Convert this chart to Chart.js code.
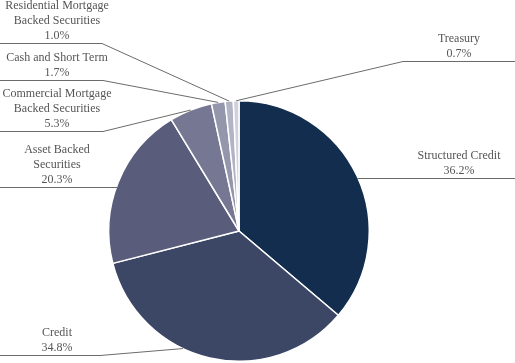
<!DOCTYPE html>
<html>
<head>
<meta charset="utf-8">
<script src="https://cdn.jsdelivr.net/npm/chart.js@4.4.0/dist/chart.umd.min.js"></script>
<style>
    html, body { margin: 0; padding: 0; background: #ffffff; }
    #wrap { width: 515px; height: 363px; position: relative; }
</style>
</head>
<body>
<div id="wrap"><canvas id="allocation-chart"></canvas></div>
<script>
// Portfolio allocation, clockwise from 12 o'clock
const categories = [
    ['Structured Credit'],
    ['Credit'],
    ['Asset Backed', 'Securities'],
    ['Commercial Mortgage', 'Backed Securities'],
    ['Cash and Short Term'],
    ['Residential Mortgage', 'Backed Securities'],
    ['Treasury']
];
const weights = [36.2, 34.8, 20.3, 5.3, 1.7, 1.0, 0.7];
const sliceColors = ['#132d4e', '#3c4766', '#595c7b', '#767893', '#9496ac', '#b2b3c5', '#d0d1db'];

// Label placement: side, baseline of the leader line, elbow x, spot along slice
const labelLayout = [
    { side: 'right', lineY: 178, elbowX: null, at: 0.5 },
    { side: 'left', lineY: 355, elbowX: 100, at: 0.6 },
    { side: 'left', lineY: 187, elbowX: null, at: 0.5 },
    { side: 'left', lineY: 131, elbowX: 103, at: 0.5 },
    { side: 'left', lineY: 80, elbowX: 103, at: 0.5 },
    { side: 'left', lineY: 43, elbowX: 102, at: 0.5 },
    { side: 'right', lineY: 61, elbowX: 403, at: 0.5 }
];

const FONT = '12px "Liberation Serif", "DejaVu Serif", serif';
const LINE_H = 15;

// Draw leader lines and the text for each slice
const leaderLabels = {
    id: 'leaderLabels',
    afterDraw(chart) {
        const ctx = chart.ctx;
        const arcs = chart.getDatasetMeta(0).data;
        const W = chart.width;
        ctx.save();
        ctx.font = FONT;
        ctx.textAlign = 'center';
        ctx.textBaseline = 'alphabetic';
        arcs.forEach((arc, i) => {
            const cfg = labelLayout[i];
            const p = arc.getProps(['x', 'y', 'startAngle', 'endAngle', 'outerRadius'], true);
            const a = p.startAngle + (p.endAngle - p.startAngle) * cfg.at;
            const ax = p.x + Math.cos(a) * p.outerRadius;
            const ay = p.y + Math.sin(a) * p.outerRadius;

            ctx.strokeStyle = '#6b6b6b';
            ctx.lineWidth = 1;
            ctx.beginPath();
            if (cfg.side === 'left') {
                ctx.moveTo(0, cfg.lineY + 0.5);
                if (cfg.elbowX !== null) {
                    ctx.lineTo(cfg.elbowX, cfg.lineY + 0.5);
                    ctx.lineTo(ax, ay);
                } else {
                    ctx.lineTo(ax, cfg.lineY + 0.5);
                }
            } else {
                ctx.moveTo(W, cfg.lineY + 0.5);
                if (cfg.elbowX !== null) {
                    ctx.lineTo(cfg.elbowX, cfg.lineY + 0.5);
                    ctx.lineTo(ax, ay);
                } else {
                    ctx.lineTo(ax, cfg.lineY + 0.5);
                }
            }
            ctx.stroke();

            const lines = categories[i].concat([weights[i].toFixed(1) + '%']);
            const cx = cfg.side === 'left' ? 57 : 459;
            ctx.fillStyle = '#555555';
            lines.forEach((t, k) => {
                const y = cfg.lineY - 4 - (lines.length - 1 - k) * LINE_H;
                ctx.fillText(t, cx, y);
            });
        });
        ctx.restore();
    }
};

document.addEventListener('DOMContentLoaded', () => {
    const ctx = document.getElementById('allocation-chart').getContext('2d');
    new Chart(ctx, {
        type: 'pie',
        data: {
            labels: categories.map(c => c.join(' ')),
            datasets: [{
                data: weights,
                backgroundColor: sliceColors,
                borderColor: '#ffffff',
                borderWidth: 1.5
            }]
        },
        options: {
            responsive: true,
            maintainAspectRatio: false,
            animation: false,
            layout: { padding: { top: 100, bottom: 1, left: 108, right: 145 } },
            plugins: {
                legend: { display: false },
                tooltip: { enabled: false }
            }
        },
        plugins: [leaderLabels]
    });
});
</script>
</body>
</html>
